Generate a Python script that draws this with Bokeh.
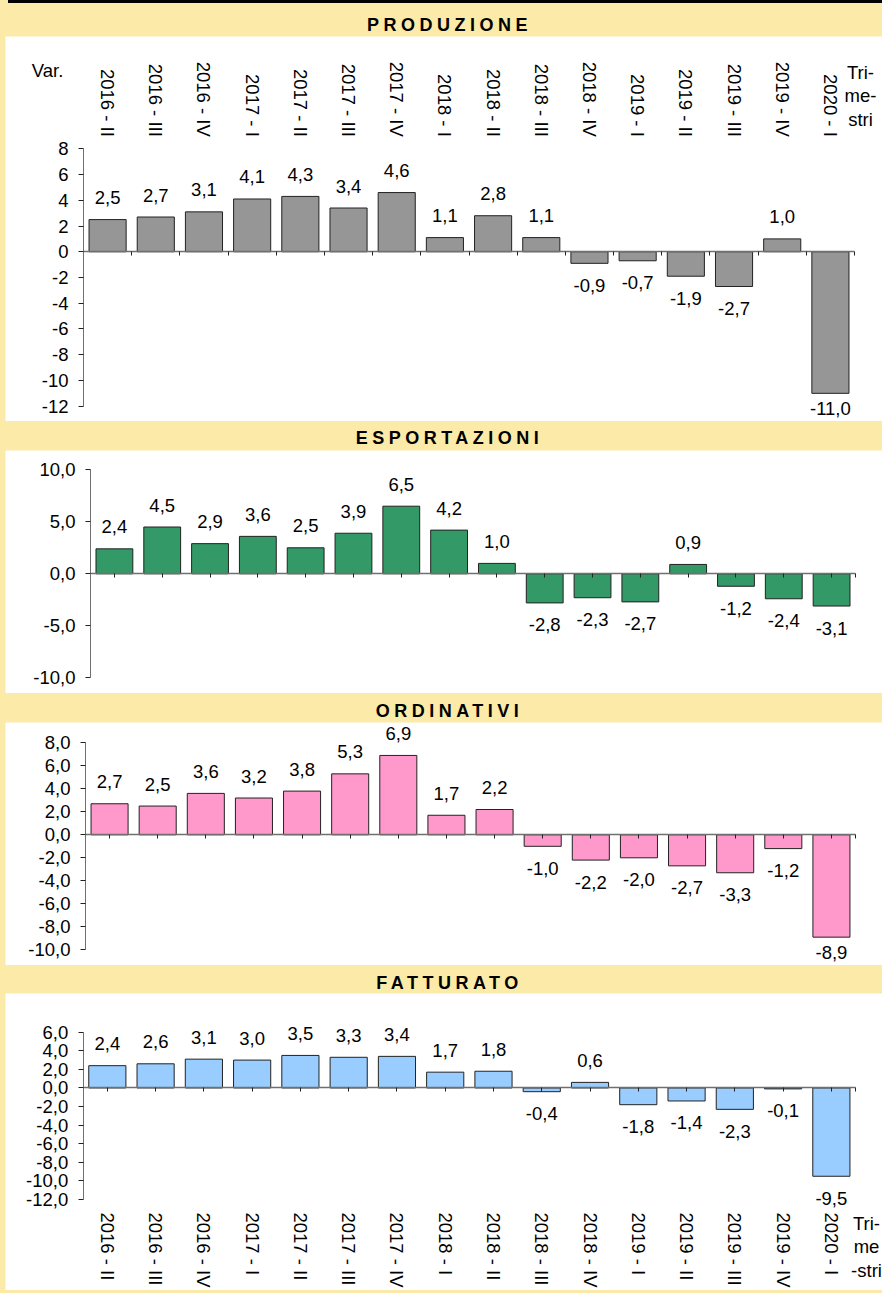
import math
from bokeh.plotting import figure
from bokeh.models import (ColumnDataSource, Range1d, LinearAxis, FixedTicker,
                          CustomJSTickFormatter, LabelSet, Label, Div)
from bokeh.core.properties import value
from bokeh.layouts import column
from bokeh.embed import file_html
from bokeh.resources import INLINE

# ---------------- data ----------------
trimestri = ["2016 - II", "2016 - III", "2016 - IV", "2017 - I", "2017 - II", "2017 - III",
             "2017 - IV", "2018 - I", "2018 - II", "2018 - III", "2018 - IV", "2019 - I",
             "2019 - II", "2019 - III", "2019 - IV", "2020 - I"]
produzione = [2.5, 2.7, 3.1, 4.1, 4.3, 3.4, 4.6, 1.1, 2.8, 1.1, -0.9, -0.7, -1.9, -2.7, 1.0, -11.0]
esportazioni = [2.4, 4.5, 2.9, 3.6, 2.5, 3.9, 6.5, 4.2, 1.0, -2.8, -2.3, -2.7, 0.9, -1.2, -2.4, -3.1]
ordinativi = [2.7, 2.5, 3.6, 3.2, 3.8, 5.3, 6.9, 1.7, 2.2, -1.0, -2.2, -2.0, -2.7, -3.3, -1.2, -8.9]
fatturato = [2.4, 2.6, 3.1, 3.0, 3.5, 3.3, 3.4, 1.7, 1.8, -0.4, 0.6, -1.8, -1.4, -2.3, -0.1, -9.5]

yticks_prod = [-12, -10, -8, -6, -4, -2, 0, 2, 4, 6, 8]
yticks_esp = [-10, -5, 0, 5, 10]
yticks_ord = [-10, -8, -6, -4, -2, 0, 2, 4, 6, 8]
yticks_fat = [-12, -10, -8, -6, -4, -2, 0, 2, 4, 6]

titoli = ["PRODUZIONE", "ESPORTAZIONI", "ORDINATIVI", "FATTURATO"]
etichetta_y = "Var."
etichetta_x_top = "Tri-\nme-\nstri"
etichetta_x_bottom = "Tri-\nme\n-stri"

# ---------------- style ----------------
FONT = "Liberation Sans"
FS = "18.5px"
YELLOW = "#FCEAA8"
AXIS = "#707070"
TICK = "#222222"
PAGE_W = 882
W = 877          # figure width (5px yellow strip on the left)
N = len(trimestri)
centers = [i + 0.5 for i in range(N)]
LABEL_GAP = 22   # px between bar end and value label centre
LABEL_ROOM = 13  # px kept free below a label near the panel bottom


def title_div(text, h, lh, top_rule=False):
    st = {
        "background-color": YELLOW,
        "font-family": "'Liberation Sans', Arial, sans-serif",
        "font-weight": "bold", "font-size": "18px", "letter-spacing": "4.5px",
        "text-align": "center", "line-height": f"{lh}px", "text-indent": "17px",
        "color": "#000000", "overflow": "visible"}
    if top_rule:
        st.update({"background-image": "linear-gradient(#000000, #000000)",
                   "background-size": "calc(100% - 8px) 3px",
                   "background-position": "right top",
                   "background-repeat": "no-repeat"})
    return Div(text=text, width=PAGE_W, height=h, margin=(0, 0, 0, 0), styles=st)


def panel(values, color, yticks, h, ax_px, right_px, top_px, bot_px, decimals):
    ymin, ymax = yticks[0], yticks[-1]
    sy = (bot_px - top_px) / (ymax - ymin)
    bx = (right_px - ax_px) / N
    y0 = ymin - (h - bot_px) / sy
    p = figure(width=W, height=h,
               x_range=Range1d(-ax_px / bx, N + (W - right_px) / bx),
               y_range=Range1d(y0, ymax + top_px / sy),
               x_axis_location=None, y_axis_location=None,
               output_backend="svg", toolbar_location=None,
               min_border=0, margin=(0, 0, 0, 5),
               background_fill_color="white", border_fill_color="white",
               outline_line_color=None)
    p.grid.visible = False

    ya = LinearAxis(fixed_location=0, bounds=(ymin, ymax),
                    ticker=FixedTicker(ticks=yticks, minor_ticks=[]),
                    axis_line_color=AXIS, major_tick_line_color=TICK,
                    major_tick_out=5, major_tick_in=0, minor_tick_line_color=None,
                    major_label_text_font=FONT, major_label_text_font_size=FS,
                    major_label_text_color="#000000", major_label_standoff=10,
                    formatter=CustomJSTickFormatter(
                        code=f"return tick.toFixed({decimals}).replace('.', ',');"))
    p.add_layout(ya, "left")

    # value-label offsets: above positive bars, below negative ones, kept inside the panel
    offs = []
    for v in values:
        if v >= 0:
            offs.append(LABEL_GAP)
        else:
            room = (v - y0) * sy - LABEL_ROOM
            offs.append(-min(LABEL_GAP, room))
    src = ColumnDataSource(dict(
        x=centers, v=values,
        lab=[f"{v:.1f}".replace(".", ",") for v in values],
        off=offs))
    p.vbar(x="x", top="v", bottom=0, width=0.77, source=src,
           fill_color=color, line_color=TICK, line_width=1)
    p.add_layout(LabelSet(x="x", y="v", text="lab", y_offset="off", source=src,
                          text_align="center", text_baseline="middle",
                          text_font=value(FONT), text_font_size=value(FS),
                          text_color="#000000"))
    return p


def zero_axis(ticks):
    return LinearAxis(fixed_location=0, bounds=(0, N),
                      ticker=FixedTicker(ticks=ticks, minor_ticks=[]),
                      axis_line_color=AXIS, axis_line_width=1.3,
                      major_tick_line_color=TICK, major_tick_in=0, major_tick_out=4,
                      minor_tick_line_color=None, major_label_text_color=None,
                      major_label_standoff=0)


def cat_axis(loc, standoff):
    return LinearAxis(fixed_location=loc,
                      ticker=FixedTicker(ticks=centers, minor_ticks=[]),
                      axis_line_color=None, major_tick_line_color=None,
                      major_tick_in=0, major_tick_out=0, minor_tick_line_color=None,
                      major_label_orientation=-math.pi / 2,
                      major_label_standoff=standoff,
                      major_label_text_font=FONT, major_label_text_font_size=FS,
                      major_label_text_color="#000000",
                      formatter=CustomJSTickFormatter(args=dict(labels=trimestri),
                                                      code="return labels[Math.floor(tick)];"))


def side_label(text, x, y, baseline):
    return Label(x=x, y=y, x_units="screen", y_units="screen", text=text,
                 text_align="center", text_baseline=baseline, text_line_height=1.12,
                 text_font=FONT, text_font_size=FS, text_color="#000000")


# ---- PRODUZIONE ----  (figure spans page y 36..421, x 5..882)
H1 = 385
p1 = panel(produzione, "#969696", yticks_prod, H1, 78, 849, 112.3, 369.7, 0)
p1.add_layout(cat_axis(yticks_prod[-1], 12), "above")
p1.add_layout(zero_axis(list(range(1, N + 1))), "below")
p1.add_layout(side_label(etichetta_y, 42, H1 - 34, "middle"))
p1.add_layout(side_label(etichetta_x_top, 855, H1 - 25, "top"))

# ---- ESPORTAZIONI ----  (page y 450..693)
p2 = panel(esportazioni, "#339966", yticks_esp, 243, 85, 850, 19.3, 227.3, 1)
p2.add_layout(zero_axis(centers + [N]), "below")

# ---- ORDINATIVI ----  (page y 722..965)
p3 = panel(ordinativi, "#FF99CC", yticks_ord, 243, 80, 850, 20.3, 227.3, 1)
p3.add_layout(zero_axis(centers + [N]), "below")

# ---- FATTURATO ----  (page y 993..1290)
H4 = 297
p4 = panel(fatturato, "#99CCFF", yticks_fat, H4, 77.7, 850, 38.7, 206, 1)
p4.add_layout(zero_axis(centers + [N]), "below")
p4.add_layout(cat_axis(yticks_fat[0], 13), "below")
p4.add_layout(side_label(etichetta_x_bottom, 861, H4 - 219, "top"))

layout = column(title_div(titoli[0], 36, 50, top_rule=True), p1,
                title_div(titoli[1], 29, 34), p2,
                title_div(titoli[2], 29, 36), p3,
                title_div(titoli[3], 28, 36), p4,
                Div(text="", width=PAGE_W, height=3, margin=(0, 0, 0, 0),
                    styles={"background-color": YELLOW}),
                spacing=0, styles={"background-color": YELLOW})

open("out.html", "w").write(file_html(layout, INLINE))
